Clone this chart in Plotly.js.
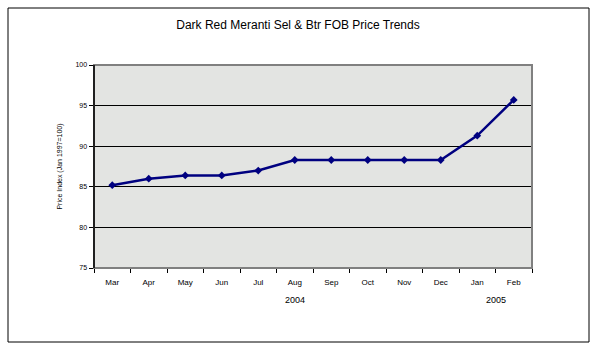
<!DOCTYPE html>
<html>
<head>
<meta charset="utf-8">
<script src="https://cdn.plot.ly/plotly-3.0.1.min.js"></script>
<style>
html,body{margin:0;padding:0;background:#fff;}
#chart{width:596px;height:351px;}
</style>
</head>
<body>
<div id="chart"></div>
<script>
const months = ["Mar","Apr","May","Jun","Jul","Aug","Sep","Oct","Nov","Dec","Jan","Feb"];
const priceIndex = [85.2, 86.0, 86.4, 86.4, 87.0, 88.3, 88.3, 88.3, 88.3, 88.3, 91.3, 95.7];
const yearLabels = ["2004", "2005"];
const yearPositions = [5, 10.5];
const yTicks = [75, 80, 85, 90, 95, 100];

const FONT = "Liberation Sans, Arial, sans-serif";

const trace = {
  x: months,
  y: priceIndex,
  type: "scatter",
  mode: "lines+markers",
  line: {color: "#000080", width: 2.5},
  marker: {color: "#000080", symbol: "diamond", size: 6},
  hoverinfo: "x+y"
};

const layout = {
  width: 596,
  height: 351,
  margin: {l: 94, r: 64, t: 65, b: 83},
  paper_bgcolor: "#ffffff",
  plot_bgcolor: "#e3e4e2",
  showlegend: false,
  font: {family: FONT, color: "#000"},
  title: {
    text: "Dark Red Meranti Sel & Btr FOB Price Trends",
    font: {family: FONT, size: 12, color: "#000"},
    x: 0.5, xanchor: "center",
    y: 1 - 25/351, yanchor: "middle", yref: "container"
  },
  xaxis: {
    type: "category",
    tickson: "boundaries",
    ticks: "outside",
    ticklen: 4,
    tickcolor: "#000",
    tickfont: {family: FONT, size: 8, color: "#000"},
    ticklabelstandoff: 6,
    showline: true,
    linecolor: "#000",
    linewidth: 1,
    showgrid: false,
    zeroline: false,
    range: [-0.5, 11.5],
    fixedrange: true
  },
  yaxis: {
    range: [75, 100],
    tickvals: yTicks,
    ticks: "outside",
    ticklen: 4,
    tickcolor: "#000",
    tickfont: {family: FONT, size: 7, color: "#000"},
    showline: true,
    linecolor: "#000",
    linewidth: 1.5,
    showgrid: true,
    gridcolor: "#000",
    gridwidth: 1,
    zeroline: false,
    title: {text: "Price Index (Jan 1997=100)", font: {family: FONT, size: 7, color: "#000"}, standoff: 12},
    fixedrange: true
  },
  shapes: [
    {type: "rect", xref: "paper", yref: "paper", x0: 0, x1: 1, y0: 0, y1: 1,
     line: {color: "#808080", width: 2}, fillcolor: "rgba(0,0,0,0)", layer: "above"},
    {type: "line", xref: "paper", yref: "paper", x0: 0, x1: 0, y0: 0, y1: 1,
     line: {color: "#000", width: 1.5}, layer: "above"},
    {type: "rect", xref: "paper", yref: "paper",
     x0: (8-94)/438, x1: (589-94)/438, y0: (268-342)/203, y1: (268-8)/203,
     line: {color: "#000", width: 1}, fillcolor: "rgba(0,0,0,0)", layer: "above"}
  ],
  annotations: yearLabels.map((t, i) => ({
    text: t, x: yearPositions[i], xref: "x", y: (268-300)/203, yref: "paper",
    showarrow: false, font: {family: FONT, size: 9, color: "#000"},
    xanchor: "center", yanchor: "middle"
  }))
};

Plotly.newPlot("chart", [trace], layout, {displayModeBar: false, staticPlot: true});
</script>
</body>
</html>
